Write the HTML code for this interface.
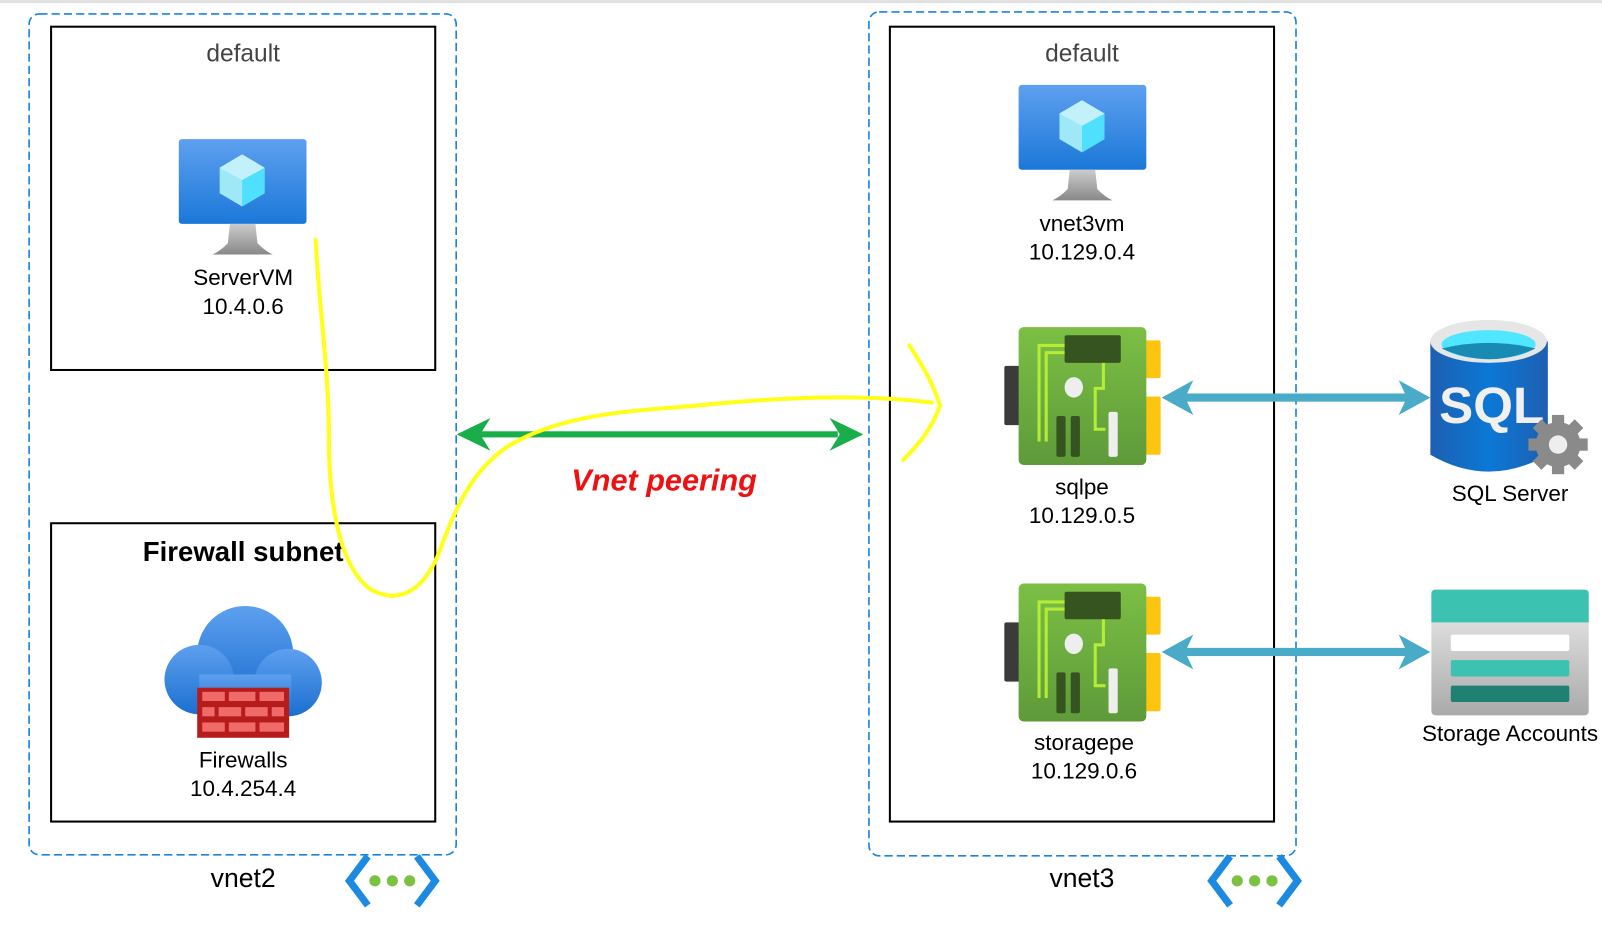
<!DOCTYPE html>
<html><head><meta charset="utf-8"><style>
html,body{margin:0;padding:0;background:#fff;}
svg{display:block;}
text{font-family:"Liberation Sans",Arial,sans-serif;}
</style></head><body>
<svg width="1602" height="930" viewBox="0 0 1568 910" xmlns="http://www.w3.org/2000/svg">
<defs>
<linearGradient id="scr" x1="0" y1="0" x2="0" y2="1"><stop offset="0" stop-color="#5ea0ef"/><stop offset="1" stop-color="#1b78d8"/></linearGradient>
<linearGradient id="stand" x1="0" y1="0" x2="0" y2="1"><stop offset="0" stop-color="#ccc"/><stop offset="1" stop-color="#888"/></linearGradient>
<linearGradient id="card" x1="0" y1="0" x2="0" y2="1"><stop offset="0" stop-color="#7cbf44"/><stop offset="1" stop-color="#5e9a3a"/></linearGradient>
<linearGradient id="cloud" x1="0" y1="0" x2="0" y2="1"><stop offset="0" stop-color="#5ea0ef"/><stop offset="1" stop-color="#1b6fd0"/></linearGradient>
<linearGradient id="sqlb" x1="0" y1="0" x2="1" y2="0"><stop offset="0" stop-color="#1e5fb0"/><stop offset="0.5" stop-color="#0b78d6"/><stop offset="1" stop-color="#1e5fb0"/></linearGradient>
<linearGradient id="stg" x1="0" y1="0" x2="0" y2="1"><stop offset="0" stop-color="#eee"/><stop offset="1" stop-color="#aaa"/></linearGradient>
<g id="vm">
<rect x="0" y="0" width="125" height="83" rx="3" fill="url(#scr)"/>
<polygon points="62,15 84,28 84,53 62,66 40,53 40,28" fill="#9ee8f8"/>
<polygon points="62,40 84,28 84,53 62,66" fill="#50e0ff"/>
<polygon points="62,15 84,28 62,40 40,28" fill="#c3f1fb"/>
<path d="M50,83 L75,83 L77,102 Q85,110 92,113 L33,113 Q40,110 48,102 Z" fill="url(#stand)"/>
</g>
<g id="pe">
<rect x="-14" y="38" width="16" height="58" rx="2" fill="#3b3b3b"/>
<rect x="123" y="13" width="16" height="37" rx="2" fill="#fdc50f"/>
<rect x="123" y="68" width="16" height="57" rx="2" fill="#fdc50f"/>
<rect x="0" y="0" width="125" height="135" rx="5" fill="url(#card)"/>
<rect x="45" y="8" width="55" height="27" rx="2" fill="#36541f"/>
<path d="M20,112 L20,18 L45,18 M27,112 L27,25 L45,25 M83,35 L83,60 L75,60 L75,100 L85,100" stroke="#b4ec36" stroke-width="3" fill="none"/>
<ellipse cx="54" cy="59" rx="9" ry="10" fill="#eee"/>
<rect x="37" y="87" width="9" height="40" rx="2" fill="#36541f"/>
<rect x="51" y="87" width="9" height="40" rx="2" fill="#36541f"/>
<rect x="88" y="83" width="9" height="44" rx="2" fill="#eee"/>
</g>
<g id="net">
<path d="M18,0 L0,24 L18,48" stroke="#1b8ae0" stroke-width="7" fill="none"/>
<path d="M66,0 L84,24 L66,48" stroke="#1b8ae0" stroke-width="7" fill="none"/>
<circle cx="25" cy="24" r="5.5" fill="#7cc242"/><circle cx="42" cy="24" r="5.5" fill="#7cc242"/><circle cx="59" cy="24" r="5.5" fill="#7cc242"/>
</g>
<marker id="ga" viewBox="0 0 10 10" refX="8" refY="5" markerWidth="7" markerHeight="5" orient="auto-start-reverse" markerUnits="userSpaceOnUse"></marker>
</defs>
<rect x="0" y="0" width="1568" height="3" fill="#e0e0e0"/>
<!-- vnet2 -->
<rect x="28.5" y="13.5" width="418" height="823" rx="10" fill="none" stroke="#1a83e0" stroke-width="1.6" stroke-dasharray="8,4"/>
<rect x="50" y="26" width="376" height="336" fill="none" stroke="#000" stroke-width="2"/>
<text x="238" y="60" font-size="24" text-anchor="middle" fill="#444">default</text>
<use href="#vm" x="175" y="136"/>
<text x="238" y="279" font-size="22" text-anchor="middle">ServerVM</text>
<text x="238" y="307" font-size="22" text-anchor="middle">10.4.0.6</text>
<rect x="50" y="512" width="376" height="292" fill="none" stroke="#000" stroke-width="2"/>
<text x="238" y="549" font-size="27" font-weight="bold" text-anchor="middle">Firewall subnet</text>
<g>
<circle cx="240" cy="640" r="47" fill="url(#cloud)"/>
<circle cx="195" cy="665" r="34" fill="url(#cloud)"/>
<circle cx="282" cy="668" r="33" fill="url(#cloud)"/>
<rect x="195" y="660" width="90" height="40" fill="url(#cloud)"/>
<rect x="193" y="673" width="90" height="49" fill="#b71c1c"/>
<g fill="#f06a6a">
<rect x="198" y="677" width="22" height="9"/><rect x="224" y="677" width="26" height="9"/><rect x="254" y="677" width="24" height="9"/>
<rect x="198" y="692" width="12" height="9"/><rect x="214" y="692" width="22" height="9"/><rect x="240" y="692" width="22" height="9"/><rect x="266" y="692" width="12" height="9"/>
<rect x="198" y="707" width="22" height="9"/><rect x="224" y="707" width="26" height="9"/><rect x="254" y="707" width="24" height="9"/>
</g></g>
<text x="238" y="751" font-size="22" text-anchor="middle">Firewalls</text>
<text x="238" y="779" font-size="22" text-anchor="middle">10.4.254.4</text>
<text x="238" y="868" font-size="26" text-anchor="middle">vnet2</text>
<use href="#net" x="342" y="838"/>
<!-- vnet3 -->
<rect x="850.5" y="11.5" width="418" height="826" rx="10" fill="none" stroke="#1a83e0" stroke-width="1.6" stroke-dasharray="8,4"/>
<rect x="871" y="26" width="376" height="778" fill="none" stroke="#000" stroke-width="2"/>
<text x="1059" y="60" font-size="24" text-anchor="middle" fill="#444">default</text>
<use href="#vm" x="997" y="83"/>
<text x="1059" y="226" font-size="22" text-anchor="middle">vnet3vm</text>
<text x="1059" y="254" font-size="22" text-anchor="middle">10.129.0.4</text>
<use href="#pe" x="997" y="320"/>
<text x="1059" y="484" font-size="22" text-anchor="middle">sqlpe</text>
<text x="1059" y="512" font-size="22" text-anchor="middle">10.129.0.5</text>
<use href="#pe" x="997" y="571"/>
<text x="1061" y="734" font-size="22" text-anchor="middle">storagepe</text>
<text x="1061" y="762" font-size="22" text-anchor="middle">10.129.0.6</text>
<text x="1059" y="868" font-size="26" text-anchor="middle">vnet3</text>
<use href="#net" x="1186" y="838"/>
<!-- SQL -->
<path d="M1400,334 L1400,445 Q1457,478 1515,445 L1515,334 Z" fill="url(#sqlb)"/>
<ellipse cx="1457" cy="334" rx="57" ry="21" fill="#e6e6e6"/>
<ellipse cx="1457" cy="337" rx="46" ry="14" fill="#50e6ff"/>
<path d="M1411,341 Q1457,362 1503,341 Q1457,330 1411,341Z" fill="#198ab3"/>
<text x="1460" y="414" font-size="50" font-weight="bold" fill="#f0f0f0" text-anchor="middle">SQL</text>
<circle cx="1525" cy="435" r="22" fill="#8a8a8a"/>
<g fill="#8a8a8a"><rect x="1519" y="406" width="12" height="58"/><rect x="1496" y="429" width="58" height="12"/><rect x="1519" y="406" width="12" height="58" transform="rotate(45 1525 435)"/><rect x="1519" y="406" width="12" height="58" transform="rotate(-45 1525 435)"/></g>
<circle cx="1525" cy="435" r="9" fill="#eee"/>
<text x="1478" y="490" font-size="22" text-anchor="middle">SQL Server</text>
<!-- Storage -->
<rect x="1401" y="577" width="154" height="123" rx="4" fill="url(#stg)"/>
<path d="M1401,581 Q1401,577 1405,577 L1551,577 Q1555,577 1555,581 L1555,609 L1401,609Z" fill="#3bc2b0"/>
<rect x="1420" y="621" width="116" height="16" rx="2" fill="#fff"/>
<rect x="1420" y="646" width="116" height="16" rx="2" fill="#3bc2b0"/>
<rect x="1420" y="671" width="116" height="16" rx="2" fill="#208072"/>
<text x="1478" y="725" font-size="22" text-anchor="middle">Storage Accounts</text>
<!-- blue arrows -->
<g fill="#4aabc8">
<rect x="1160" y="385" width="220" height="8"/>
<polygon points="1137,389 1168,372 1160,389 1168,406"/>
<polygon points="1400,389 1369,372 1377,389 1369,406"/>
<rect x="1160" y="634" width="220" height="8"/>
<polygon points="1137,638 1168,621 1160,638 1168,655"/>
<polygon points="1400,638 1369,621 1377,638 1369,655"/>
</g>
<!-- green arrow -->
<g fill="#1aae4a">
<rect x="470" y="422" width="350" height="6"/>
<polygon points="447,425 480,409 470,425 480,441"/>
<polygon points="845,425 812,409 822,425 812,441"/>
</g>
<text x="650" y="480" font-size="30" font-weight="bold" font-style="italic" fill="#ee1111" text-anchor="middle">Vnet peering</text>
<!-- yellow freehand -->
<path d="M309,235 C312,300 322,360 322,430 C322,500 335,560 365,578 C390,590 412,580 428,545 C445,500 460,460 500,435 C560,400 640,402 700,395 C780,388 850,386 912,394" stroke="#ffff1a" stroke-width="4" fill="none" stroke-linecap="round"/>
<path d="M890,338 C905,360 915,380 920,397 C912,420 898,436 884,450" stroke="#ffff1a" stroke-width="4" fill="none" stroke-linecap="round"/>
</svg>
</body></html>
